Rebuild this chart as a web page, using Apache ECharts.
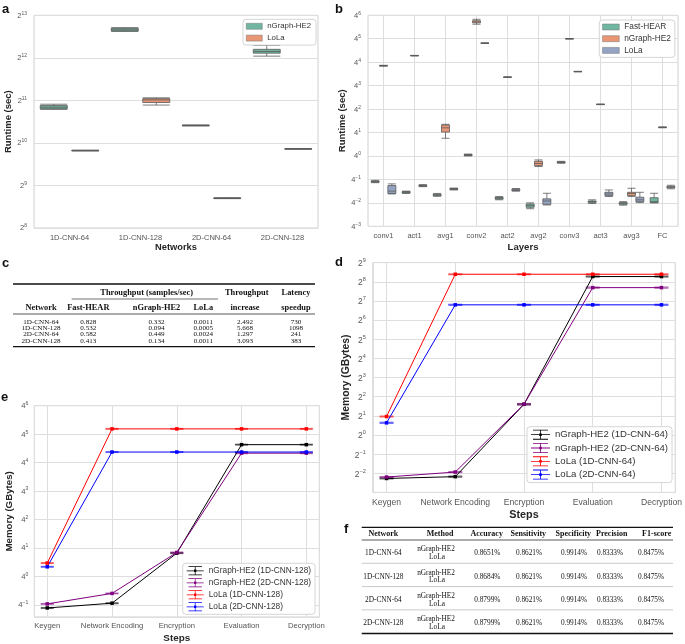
<!DOCTYPE html>
<html><head><meta charset="utf-8">
<script src="https://cdn.jsdelivr.net/npm/echarts@6/dist/echarts.min.js"></script>
<style>html,body{margin:0;padding:0;background:#fff}#c{width:685px;height:644px}</style>
</head><body><div id="c"></div>
<script>
// ---------- Panel a: runtime per network (box stats: min, q1, median, q3, max) ----------
const networks = ['1D-CNN-64', '1D-CNN-128', '2D-CNN-64', '2D-CNN-128'];
const aNGraph = [[1770,1783,1833,1882,1924],[6300,6340,6470,6630,6700],[1350,1356,1361,1366,1372],[4211,4420,4545,4705,5008]];
const aLoLa = [[898,901,904,907,910],[1898,1978,2062,2106,2135],[413,414.5,416,417.5,419],[924,927,929,931,934]];

// ---------- Panel b: runtime per layer ----------
const layers = ['conv1','act1','avg1','conv2','act2','avg2','conv3','act3','avg3','FC'];
const bFast = [
  [0.206,0.212,0.218,0.227,0.237],[0.109,0.112,0.117,0.122,0.125],[0.092,0.096,0.100,0.104,0.109],
  [1.00,1.03,1.06,1.09,1.12],[0.075,0.078,0.0825,0.086,0.091],[0.0442,0.048,0.0529,0.0583,0.0625],
  [0.651,0.669,0.688,0.707,0.727],[0.060,0.0643,0.067,0.0698,0.0748],[0.0544,0.0575,0.0608,0.0634,0.067],
  [0.0625,0.0634,0.067,0.0848,0.110]];
const bNGraph = [
  [203,206,208,210,213],[372,375,377,380,383],[2.85,4.11,5.28,6.23,6.50],
  [2419,2628,2778,2978,3236],[104,105,105.4,106,107],[0.536,0.566,0.642,0.727,0.790],
  [1012,1018,1024,1030,1036],[20.8,21.0,21.1,21.3,21.4],[0.0909,0.096,0.109,0.1166,0.148],
  [5.3,5.37,5.43,5.5,5.55]];
const bLoLa = [
  [0.106,0.109,0.125,0.174,0.192],[0.163,0.167,0.172,0.177,0.184],[0.134,0.138,0.142,0.146,0.150],
  [780,784,787,790,794],[0.125,0.1285,0.134,0.140,0.146],[0.0552,0.0575,0.0698,0.0791,0.110],
  [145,146,147,148,149],[0.0909,0.096,0.1058,0.1166,0.134],[0.0634,0.067,0.0748,0.0872,0.1166],
  [0.1436,0.1518,0.1582,0.165,0.1768]];

// ---------- Panel d / e: memory per step ----------
const steps = ['Keygen','Network Encoding','Encryption','Evaluation','Decryption'];
const dNames = ['nGraph-HE2 (1D-CNN-64)','nGraph-HE2 (2D-CNN-64)','LoLa (1D-CNN-64)','LoLa (2D-CNN-64)'];
const dNG1 = [0.207,0.221,3.03,309,309];
const dNG2 = [0.218,0.261,3.05,207,207];
const dLo1 = [1.95,336,336,336,336];
const dLo2 = [1.55,111,111,111,111];
const dNG1Err = [0.003,0.004,0.06,5,5];
const dNG2Err = [0.003,0.004,0.06,4,4];
const dLo1Err = [0.03,5,5,5,5];
const dLo2Err = [0.03,2,2,2,2];

const eNames = ['nGraph-HE2 (1D-CNN-128)','nGraph-HE2 (2D-CNN-128)','LoLa (1D-CNN-128)','LoLa (2D-CNN-128)'];
const eNG1 = [0.214,0.270,3.10,613,613];
const eNG2 = [0.261,0.435,3.20,405,405];
const eLo1 = [1.91,1323,1323,1323,1323];
const eLo2 = [1.59,428,428,428,428];
const eNG1Err = [0.004,0.005,0.06,10,10];
const eNG2Err = [0.004,0.006,0.06,8,8];
const eLo1Err = [0.03,25,25,25,25];
const eLo2Err = [0.03,8,8,8,8];

// ---------- Table c ----------
const tcNetworks = ['1D-CNN-64','1D-CNN-128','2D-CNN-64','2D-CNN-128'];
const tcFast = ['0.828','0.532','0.582','0.413'];
const tcNGraph = ['0.332','0.094','0.449','0.134'];
const tcLoLa = ['0.0011','0.0005','0.0024','0.0011'];
const tcIncrease = ['2.492','5.668','1.297','3.093'];
const tcSpeedup = ['730','1098','241','383'];

// ---------- Table f ----------
const tfNetworks = ['1D-CNN-64','1D-CNN-128','2D-CNN-64','2D-CNN-128'];
const tfMethods = ['nGraph-HE2','LoLa'];
const tfAccuracy = ['0.8651%','0.8684%','0.8799%','0.8799%'];
const tfSensitivity = ['0.8621%','0.8621%','0.8621%','0.8621%'];
const tfSpecificity = ['0.9914%','0.9914%','0.9914%','0.9914%'];
const tfPrecision = ['0.8333%','0.8333%','0.8333%','0.8333%'];
const tfF1 = ['0.8475%','0.8475%','0.8475%','0.8475%'];

// ================= rendering =================
const F = 'Liberation Sans, Arial, sans-serif';
const SERIF = 'Liberation Serif, Times New Roman, serif';
const cGreen = '#71b6a1', cOrange = '#e99675', cBlue = '#95a3c3';
const gridLine = '#dedede', frame = '#d0d0d0', tickColor = '#555', titleColor = '#262626';

function powLabel(base) {
  return function (v) {
    const e = Math.round(Math.log(v) / Math.log(base));
    return '{b|' + base + '}{s|' + (e < 0 ? '\u2212' + (-e) : e) + '}';
  };
}
function richFor(size) {
  return {
    b: {fontSize: size, color: tickColor, fontFamily: F, verticalAlign: 'bottom'},
    s: {fontSize: size * 0.66, color: tickColor, fontFamily: F, verticalAlign: 'bottom', padding: [0, 0, size * 0.5, 0]}
  };
}
function gridOpt(l, t, w, h) {
  return {left: l, top: t, width: w, height: h, show: true, borderColor: frame, borderWidth: 1, backgroundColor: '#fff', containLabel: false};
}
function logY(gi, base, min, max, name, nameGap, size, extra) {
  return Object.assign({
    gridIndex: gi, type: 'log', logBase: base, min: min, max: max,
    axisLine: {show: false}, axisTick: {show: false},
    splitLine: {show: true, lineStyle: {color: gridLine, width: 1}},
    axisLabel: {formatter: powLabel(base), margin: 7, rich: richFor(size)},
    name: name, nameLocation: 'middle', nameGap: nameGap,
    nameTextStyle: {fontWeight: 'bold', fontSize: size + 2, color: titleColor, fontFamily: F}
  }, extra || {});
}
function stepX(gi, name, size, nameGap, margin) {
  return {
    gridIndex: gi, type: 'value', min: -0.2, max: 4.2, splitNumber: 4,
    axisLine: {show: false}, axisTick: {show: false},
    splitLine: {show: true, lineStyle: {color: gridLine, width: 1}},
    axisLabel: {fontSize: size, color: tickColor, fontFamily: F, margin: margin, showMinLabel: false, showMaxLabel: false,
      formatter: function (v) { return Number.isInteger(v) && steps[v] ? steps[v] : ''; }},
    name: name, nameLocation: 'middle', nameGap: nameGap,
    nameTextStyle: {fontWeight: 'bold', fontSize: size + 2.2, color: titleColor, fontFamily: F}
  };
}
function box(name, gi, data, color, w) {
  return {type: 'boxplot', name: name, xAxisIndex: gi, yAxisIndex: gi, data: data, boxWidth: [w, w],
    itemStyle: {color: color, borderColor: '#5a5a5a', borderWidth: 0.8}, emphasis: {disabled: true}, silent: true, z: 3};
}
function lineS(name, gi, vals, color) {
  return {type: 'line', name: name, xAxisIndex: gi, yAxisIndex: gi,
    data: vals.map(function (v, i) { return [i, v]; }),
    symbol: 'rect', symbolSize: 3.5, showSymbol: true,
    lineStyle: {color: color, width: 1}, itemStyle: {color: color}, color: color, z: 4, silent: true};
}
function errS(gi, vals, errs, color, cap) {
  return {type: 'custom', xAxisIndex: gi, yAxisIndex: gi, silent: true, z: 3,
    data: vals.map(function (v, i) { return [i, v, errs[i]]; }),
    encode: {x: 0, y: 1},
    renderItem: function (params, api) {
      const x = api.value(0), y = api.value(1), e = api.value(2);
      const lo = api.coord([x, y - e]), hi = api.coord([x, y + e]);
      const st = {stroke: color, lineWidth: 1.3, opacity: 0.55};
      return {type: 'group', children: [
        {type: 'line', shape: {x1: lo[0], y1: lo[1], x2: hi[0], y2: hi[1]}, style: st},
        {type: 'line', shape: {x1: lo[0] - cap, y1: lo[1], x2: lo[0] + cap, y2: lo[1]}, style: st},
        {type: 'line', shape: {x1: hi[0] - cap, y1: hi[1], x2: hi[0] + cap, y2: hi[1]}, style: st}
      ]};
    }};
}
const errIcon = 'path://M0,9.2H38V10.8H0Z M18.2,1H19.8V19H18.2Z M4,0.5H34V2.1H4Z M4,17.9H34V19.5H4Z M16.5,7.5H21.5V12.5H16.5Z';

// ---- tables & labels as graphic text ----
const graphics = [];
function T(x, y, s, size, bold, family, align) {
  graphics.push({type: 'text', x: x, y: y, silent: true, style: {text: s, fill: '#111',
    font: (bold ? 'bold ' : '') + size + 'px ' + (family || SERIF), align: align || 'center', verticalAlign: 'middle'}});
}
function L(x1, y1, x2, y2, w, c) {
  graphics.push({type: 'line', silent: true, shape: {x1: x1, y1: y1, x2: x2, y2: y2}, style: {stroke: c || '#111', lineWidth: w}});
}
// panel letters
[['a', 2, 9], ['b', 335, 9], ['c', 2, 263], ['d', 335, 262], ['e', 1, 397], ['f', 344, 529]].forEach(function (p) {
  T(p[1], p[2], p[0], 13, true, F, 'left');
});
// table c
L(13, 284, 315, 284, 1.3);
T(146.7, 293.3, 'Throughput (samples/sec)', 8.4, true);
T(246.7, 293.3, 'Throughput', 8.4, true);
T(296, 293.3, 'Latency', 8.4, true);
L(71.7, 299, 218, 299, 0.6);
const tcHeadX = [41, 88.3, 156.5, 203.3, 245, 296];
['Network', 'Fast-HEAR', 'nGraph-HE2', 'LoLa', 'increase', 'speedup'].forEach(function (h, i) { T(tcHeadX[i], 308.3, h, 8.4, true); });
L(13, 314, 315, 314, 0.7);
const tcCols = [tcNetworks, tcFast, tcNGraph, tcLoLa, tcIncrease, tcSpeedup];
for (let r = 0; r < 4; r++) {
  tcCols.forEach(function (col, i) { T(tcHeadX[i], 321.7 + r * 6.43, col[r], 7.1, false); });
}
L(13, 346.7, 315, 346.7, 1.3);
// table f
L(361.7, 527.3, 673, 527.3, 1.3);
const tfHeadX = [383.3, 440, 486.7, 528.3, 573.3, 611.7, 656.7];
['Network', 'Method', 'Accuracy', 'Sensitivity', 'Specificity', 'Precision', 'F1-score'].forEach(function (h, i) { T(tfHeadX[i], 534, h, 8, true); });
L(361.7, 540, 673, 540, 0.7);
const tfValX = [487.3, 529, 574, 610, 651];
const tfCols = [tfAccuracy, tfSensitivity, tfSpecificity, tfPrecision, tfF1];
for (let r = 0; r < 4; r++) {
  const y0 = 549.3 + r * 23.3;
  T(383.3, y0 + 4, tfNetworks[r], 7.3, false);
  T(436, y0, tfMethods[0], 7.3, false);
  T(437, y0 + 7.7, tfMethods[1], 7.3, false);
  tfCols.forEach(function (col, i) { T(tfValX[i], y0 + 4, col[r], 7.3, false); });
  if (r < 3) L(361.7, 563.3 + r * 23.3, 673, 563.3 + r * 23.3, 0.4, '#777');
}
L(361.7, 633.5, 673, 633.5, 1.3);

const bPre = 'b:';
function boxLegend(names, colors) {
  return names.map(function (n, i) { return {name: n, itemStyle: {color: colors[i], borderColor: '#777', borderWidth: 0.5}}; });
}
const option = {
  animation: false,
  backgroundColor: '#fff',
  textStyle: {fontFamily: F},
  grid: [gridOpt(34, 15.3, 284, 212.7), gridOpt(368, 15.3, 310, 211), gridOpt(372.8, 262.6, 305.4, 229.8), gridOpt(34.3, 405.7, 285, 212.6)],
  xAxis: [
    {gridIndex: 0, type: 'category', data: networks, axisLine: {show: false}, axisTick: {show: false},
      axisLabel: {fontSize: 7.5, color: tickColor, fontFamily: F, margin: 6}, splitLine: {show: false},
      name: 'Networks', nameLocation: 'middle', nameGap: 15, nameTextStyle: {fontWeight: 'bold', fontSize: 9.3, color: titleColor, fontFamily: F}},
    {gridIndex: 1, type: 'category', data: layers, axisLine: {show: false}, axisTick: {show: false},
      axisLabel: {fontSize: 7.5, color: tickColor, fontFamily: F, margin: 6},
      splitLine: {show: true, alignWithLabel: true, lineStyle: {color: gridLine, width: 1}},
      name: 'Layers', nameLocation: 'middle', nameGap: 16, nameTextStyle: {fontWeight: 'bold', fontSize: 9.6, color: titleColor, fontFamily: F}},
    stepX(2, 'Steps', 8.6, 17, 6),
    stepX(3, 'Steps', 7.7, 16, 5)
  ],
  yAxis: [
    logY(0, 2, 256, 8192, 'Runtime (sec)', 19, 7.5),
    logY(1, 4, 1 / 64, 4096, 'Runtime (sec)', 19.5, 7.5),
    logY(2, 2, 0.125, 512, 'Memory (GBytes)', 22, 8.4, {interval: 1, axisLabel: {formatter: powLabel(2), margin: 7, rich: richFor(8.4), showMinLabel: false}}),
    logY(3, 4, Math.pow(4, -1.43), 4096, 'Memory (GBytes)', 19, 7.7, {axisLabel: {formatter: powLabel(4), margin: 6, rich: richFor(7.7), showMinLabel: false}})
  ],
  legend: [
    {data: boxLegend(['nGraph-HE2', 'LoLa'], [cGreen, cOrange]), left: 243, top: 19.3, orient: 'vertical', icon: 'rect', itemWidth: 16, itemHeight: 6, itemGap: 3.8,
      textStyle: {fontSize: 7.8, color: '#333', fontFamily: F}, backgroundColor: '#fff', borderColor: '#d5d5d5', borderWidth: 1, borderRadius: 3,
      padding: [3, 5, 3, 3], selectedMode: false},
    {data: boxLegend([bPre + 'Fast-HEAR', bPre + 'nGraph-HE2', bPre + 'LoLa'], [cGreen, cOrange, cBlue]), left: 599.3, top: 20, orient: 'vertical', icon: 'rect', itemWidth: 16.7, itemHeight: 6, itemGap: 3.7,
      formatter: function (n) { return n.replace(bPre, ''); },
      textStyle: {fontSize: 8.3, color: '#333', fontFamily: F}, backgroundColor: '#fff', borderColor: '#d5d5d5', borderWidth: 1, borderRadius: 3,
      padding: [3, 4, 3, 3], selectedMode: false},
    {data: dNames.map(function (n) { return {name: n, icon: errIcon}; }), left: 527, top: 426.7, orient: 'vertical', itemWidth: 19, itemHeight: 10, itemGap: 3.3,
      symbolKeepAspect: false, itemStyle: {borderWidth: 0},
      textStyle: {fontSize: 9.6, color: '#333', fontFamily: F}, backgroundColor: '#fff', borderColor: '#d5d5d5', borderWidth: 1, borderRadius: 3,
      padding: [3, 4, 3, 4], selectedMode: false},
    {data: eNames.map(function (n) { return {name: n, icon: errIcon}; }), left: 182.7, top: 563.3, orient: 'vertical', itemWidth: 17, itemHeight: 9, itemGap: 3,
      symbolKeepAspect: false, itemStyle: {borderWidth: 0},
      textStyle: {fontSize: 8.3, color: '#333', fontFamily: F}, backgroundColor: '#fff', borderColor: '#d5d5d5', borderWidth: 1, borderRadius: 3,
      padding: [3, 4, 3, 4], selectedMode: false}
  ],
  series: [
    box('nGraph-HE2', 0, aNGraph, cGreen, 27),
    box('LoLa', 0, aLoLa, cOrange, 27),
    box(bPre + 'Fast-HEAR', 1, bFast, cGreen, 8),
    box(bPre + 'nGraph-HE2', 1, bNGraph, cOrange, 8),
    box(bPre + 'LoLa', 1, bLoLa, cBlue, 8),
    errS(2, dNG1, dNG1Err, '#000', 7), errS(2, dNG2, dNG2Err, '#800080', 7), errS(2, dLo1, dLo1Err, '#ff0000', 7), errS(2, dLo2, dLo2Err, '#0000ff', 7),
    lineS(dNames[0], 2, dNG1, '#000'), lineS(dNames[1], 2, dNG2, '#800080'), lineS(dNames[2], 2, dLo1, '#ff0000'), lineS(dNames[3], 2, dLo2, '#0000ff'),
    errS(3, eNG1, eNG1Err, '#000', 6.5), errS(3, eNG2, eNG2Err, '#800080', 6.5), errS(3, eLo1, eLo1Err, '#ff0000', 6.5), errS(3, eLo2, eLo2Err, '#0000ff', 6.5),
    lineS(eNames[0], 3, eNG1, '#000'), lineS(eNames[1], 3, eNG2, '#800080'), lineS(eNames[2], 3, eLo1, '#ff0000'), lineS(eNames[3], 3, eLo2, '#0000ff')
  ],
  graphic: graphics
};
const chart = echarts.init(document.getElementById('c'), null, {renderer: 'canvas'});
chart.setOption(option);
</script>
</body></html>
